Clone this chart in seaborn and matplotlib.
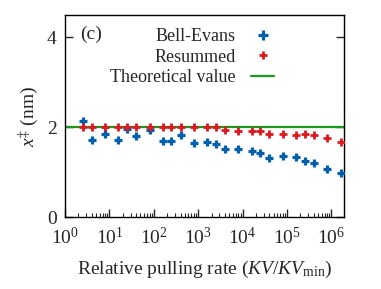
import matplotlib
matplotlib.use("Agg")
import matplotlib.pyplot as plt
import seaborn as sns
import numpy as np
import pandas as pd
from matplotlib.ticker import LogLocator, FixedLocator
from matplotlib.lines import Line2D

rate = [2.5, 4, 8, 16, 25, 40, 80, 160, 250, 400, 800, 1600, 2500, 4000, 8000,
        16000, 25000, 40000, 80000, 160000, 250000, 400000, 800000, 1600000]
bell_evans = [2.14, 1.71, 1.85, 1.71, 1.96, 1.80, 1.93, 1.69, 1.69, 1.82, 1.65, 1.68,
              1.63, 1.51, 1.51, 1.48, 1.42, 1.32, 1.37, 1.34, 1.24, 1.20, 1.08, 0.98]
resummed = [2.0, 2.0, 2.0, 2.0, 2.0, 2.0, 2.0, 2.0, 2.0, 2.0, 2.0, 2.0,
            2.0, 1.94, 1.91, 1.91, 1.91, 1.84, 1.84, 1.83, 1.85, 1.83, 1.77, 1.68]
theoretical = 2.0
series_names = ["Bell-Evans", "Resummed", "Theoretical value"]

BLUE = "#0060ad"
RED = "#dd181f"
GREEN = "#1a9a1a"
FS = 14
LEG_FS = 13

sns.set_style("ticks")
plt.rcParams["font.family"] = ["Liberation Serif", "DejaVu Serif"]
plt.rcParams["mathtext.fontset"] = "custom"
plt.rcParams["mathtext.rm"] = "Liberation Serif"
plt.rcParams["mathtext.it"] = "Liberation Serif:italic"
plt.rcParams["mathtext.bf"] = "Liberation Serif:bold"
plt.rcParams["font.size"] = FS

fig = plt.figure(figsize=(3.81, 2.89), dpi=100)
ax = fig.add_axes([0.1706, 0.249, 0.732, 0.699])

df = pd.DataFrame({"rate": rate, "be": bell_evans, "rs": resummed})

sns.scatterplot(data=df, x="rate", y="be", marker="+", color=BLUE, s=40,
                linewidth=2.3, ax=ax, zorder=3, legend=False)
sns.scatterplot(data=df, x="rate", y="rs", marker="+", color=RED, s=26,
                linewidth=2.0, ax=ax, zorder=4, legend=False)
sns.scatterplot(data=df, x="rate", y="rs", marker="o", color=RED, s=7,
                linewidth=0, ax=ax, zorder=4, legend=False)
ax.axhline(theoretical, color=GREEN, lw=1.6, zorder=2)

ax.set_xscale("log")
ax.set_xlim(1, 10 ** 6.28)
ax.set_ylim(0, 4.5)
ax.xaxis.set_major_locator(LogLocator(base=10, numticks=20))
ax.xaxis.set_minor_locator(LogLocator(base=10, subs=np.arange(2, 10), numticks=20))
ax.yaxis.set_major_locator(FixedLocator([0, 2, 4]))

ax.tick_params(axis="x", which="major", direction="in", length=6, width=1,
               top=False, bottom=True, labelsize=FS, pad=7)
ax.tick_params(axis="x", which="minor", direction="in", length=3, width=0.8,
               top=False, bottom=True)
ax.tick_params(axis="y", which="major", direction="in", length=6, width=1,
               left=True, right=True, labelsize=FS, pad=6)
ax.tick_params(axis="y", which="minor", left=False, right=False)
for sp in ax.spines.values():
    sp.set_linewidth(1.0)
    sp.set_color("black")

ax.set_xlabel(r"Relative pulling rate ($KV/KV_{\mathrm{min}}$)", fontsize=FS, labelpad=8)
ax.set_ylabel(r"$x^{\ddagger}$ (nm)", fontsize=FS, labelpad=4)

ax.text(0.054, 0.906, "(c)", transform=ax.transAxes, fontsize=FS, va="center", ha="left")

handles = [
    Line2D([], [], ls="none", marker="+", color=BLUE, markersize=7, markeredgewidth=2.3),
    Line2D([], [], ls="none", marker="+", color=RED, markersize=5.5, markeredgewidth=2.0),
    Line2D([], [], color=GREEN, lw=1.6),
]
ax.legend(handles, series_names, loc="upper right", bbox_to_anchor=(0.749, 0.935),
          frameon=False, markerfirst=False, fontsize=LEG_FS, borderpad=0,
          labelspacing=0.2, handlelength=1.25, handletextpad=0.85, borderaxespad=0)

fig.savefig("out.png", dpi=100)
